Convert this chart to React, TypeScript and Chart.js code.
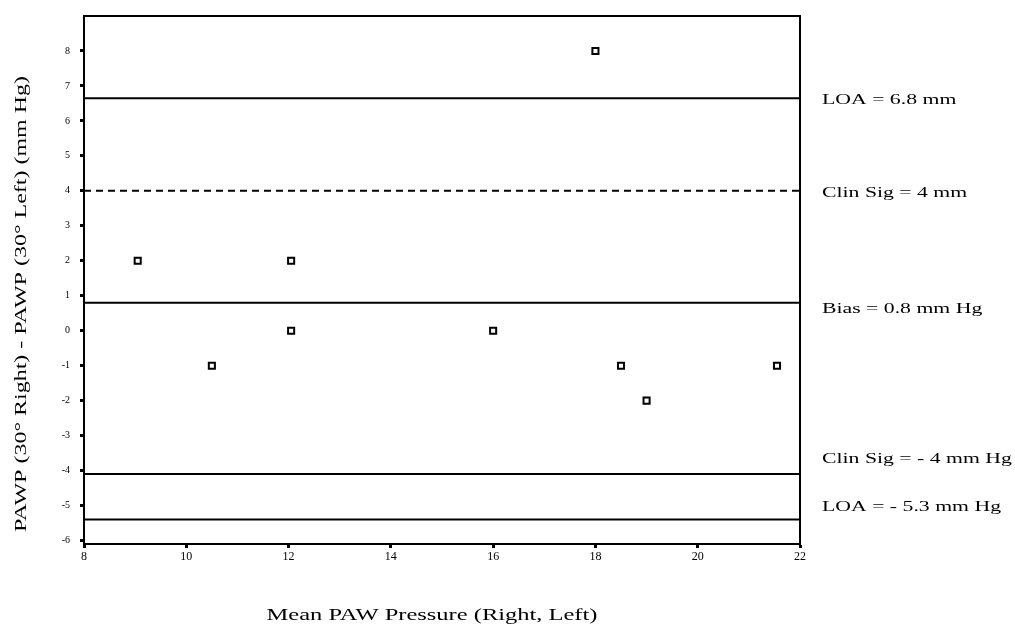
import React, { useEffect, useRef } from 'react';
import { Chart, registerables } from 'chart.js';

Chart.register(...registerables);

// ---- data ----
const xValues = [9.05, 10.5, 12.05, 12.05, 16, 18, 18.5, 19, 21.55];
const yValues = [2, -1, 2, 0, 0, 8, -1, -2, -1];

const xTicks = [8, 10, 12, 14, 16, 18, 20, 22];
const yTicks = [-6, -5, -4, -3, -2, -1, 0, 1, 2, 3, 4, 5, 6, 7, 8];

const refValues = [6.65, 4, 0.8, -4.1, -5.4];
const refDashed = [false, true, false, false, false];
const refLabels = [
  'LOA = 6.8 mm',
  'Clin Sig = 4 mm',
  'Bias = 0.8 mm Hg',
  'Clin Sig = - 4 mm Hg',
  'LOA = - 5.3 mm Hg',
];
const refLabelValues = [6.59, 3.95, 0.62, -3.66, -5.05];

const xTitle = 'Mean PAW Pressure (Right, Left)';
const yTitle = 'PAWP (30° Right) - PAWP (30° Left) (mm Hg)';

const X_MIN = 8;
const X_MAX = 22;
const Y_MIN = -6.1;
const Y_MAX = 9;

const SERIF = '"Liberation Serif", "Times New Roman", serif';

const overlayPlugin = {
  id: 'overlay',
  afterDraw(chart: any) {
    const { ctx, chartArea, scales } = chart;
    const ys = scales.y;
    ctx.save();
    // box (top and right sides)
    ctx.strokeStyle = '#000';
    ctx.lineWidth = 2;
    ctx.beginPath();
    ctx.moveTo(chartArea.left, chartArea.top);
    ctx.lineTo(chartArea.right, chartArea.top);
    ctx.lineTo(chartArea.right, chartArea.bottom);
    ctx.stroke();

    ctx.fillStyle = '#000';
    // right labels (stretched horizontally like the scan)
    ctx.font = `15px ${SERIF}`;
    ctx.textBaseline = 'middle';
    ctx.textAlign = 'left';
    refLabels.forEach((t, i) => {
      const y = ys.getPixelForValue(refLabelValues[i]);
      ctx.save();
      ctx.translate(chartArea.right + 22, y);
      ctx.scale(1.45, 1);
      ctx.fillText(t, 0, 0);
      ctx.restore();
    });

    // y title
    ctx.save();
    ctx.font = `16px ${SERIF}`;
    ctx.textAlign = 'center';
    ctx.textBaseline = 'middle';
    ctx.translate(22, (chartArea.top + chartArea.bottom) / 2 + 24);
    ctx.rotate(-Math.PI / 2);
    ctx.scale(1.5, 1);
    ctx.fillText(yTitle, 0, 0);
    ctx.restore();

    // x title
    ctx.save();
    ctx.font = `16px ${SERIF}`;
    ctx.textAlign = 'center';
    ctx.textBaseline = 'middle';
    ctx.translate((chartArea.left + chartArea.right) / 2 - 10, 616);
    ctx.scale(1.53, 1);
    ctx.fillText(xTitle, 0, 0);
    ctx.restore();

    ctx.restore();
  },
};

export default function App() {
  const canvasRef = useRef<HTMLCanvasElement | null>(null);

  useEffect(() => {
    const canvas = canvasRef.current;
    if (!canvas) return;

    const points = xValues.map((x, i) => ({ x, y: yValues[i] }));
    const refSets = refValues.map((v, i) => ({
      type: 'line' as const,
      data: [
        { x: X_MIN, y: v },
        { x: X_MAX, y: v },
      ],
      borderColor: '#000',
      borderWidth: 2,
      borderDash: refDashed[i] ? [7, 5] : [],
      pointRadius: 0,
      fill: false,
    }));

    const chart = new Chart(canvas, {
      type: 'scatter',
      data: {
        datasets: [
          ...refSets,
          {
            type: 'scatter' as const,
            data: points,
            pointStyle: 'rect',
            pointRadius: 4.3,
            pointBorderWidth: 2,
            pointBackgroundColor: '#fff',
            pointBorderColor: '#000',
          } as any,
        ],
      },
      options: {
        responsive: false,
        animation: false,
        events: [],
        layout: { padding: { top: 12, right: 215, left: 0, bottom: 0 } },
        plugins: {
          legend: { display: false },
          tooltip: { enabled: false },
        },
        scales: {
          x: {
            type: 'linear',
            min: X_MIN,
            max: X_MAX,
            afterBuildTicks: (s: any) => {
              s.ticks = xTicks.map((v) => ({ value: v }));
            },
            afterFit: (s: any) => {
              s.height = 91;
            },
            grid: {
              drawOnChartArea: false,
              drawTicks: true,
              tickLength: 4,
              tickWidth: 3,
              tickColor: '#000',
            },
            border: { display: true, color: '#000', width: 2 },
            ticks: {
              color: '#000',
              padding: 2,
              maxRotation: 0,
              font: { family: SERIF, size: 12 },
            },
          },
          y: {
            type: 'linear',
            min: Y_MIN,
            max: Y_MAX,
            afterBuildTicks: (s: any) => {
              s.ticks = yTicks.map((v) => ({ value: v }));
            },
            afterFit: (s: any) => {
              s.width = 84;
            },
            grid: {
              drawOnChartArea: false,
              drawTicks: true,
              tickLength: 4,
              tickWidth: 3,
              tickColor: '#000',
            },
            border: { display: true, color: '#000', width: 2 },
            ticks: {
              color: '#000',
              padding: 10,
              font: { family: SERIF, size: 10 },
            },
          },
        },
      },
      plugins: [overlayPlugin],
    });

    return () => {
      chart.destroy();
    };
  }, []);

  return (
    <div style={{ position: 'fixed', left: 0, top: 0, width: 1015, height: 635, background: '#fff' }}>
      <canvas ref={canvasRef} width={1015} height={635} style={{ width: 1015, height: 635, display: 'block' }} />
    </div>
  );
}
